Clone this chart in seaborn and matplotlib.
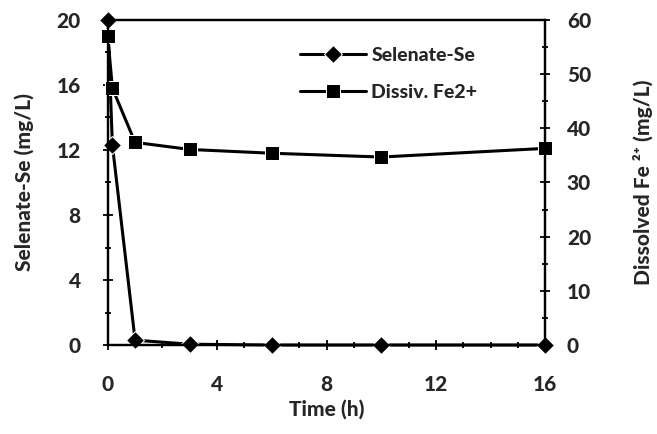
import matplotlib
matplotlib.use("Agg")
import matplotlib.pyplot as plt
import seaborn as sns
import pandas as pd
from matplotlib.ticker import MultipleLocator

time_se = [0, 0.17, 1, 3, 6, 10, 16]
selenate_se = [20.0, 12.3, 0.3, 0.05, 0.0, 0.0, 0.0]
time_fe = [0, 0.17, 1, 3, 6, 10, 16]
fe2 = [57.0, 47.4, 37.4, 36.1, 35.4, 34.7, 36.3]

sns.set_theme(style="ticks")
plt.rcParams['font.family'] = ['Lato', 'DejaVu Sans']
plt.rcParams['font.weight'] = 'black'

W = "black"
fig = plt.figure(figsize=(6.57, 4.34), dpi=100)
ax = fig.add_axes([0.164, 0.205, 0.666, 0.749])
ax2 = ax.twinx()

df1 = pd.DataFrame({"t": time_se, "v": selenate_se})
df2 = pd.DataFrame({"t": time_fe, "v": fe2})

sns.lineplot(data=df1, x="t", y="v", ax=ax, color="black", marker="D", markersize=9,
             linewidth=2.2, clip_on=False, label="Selenate-Se", legend=False)
sns.lineplot(data=df2, x="t", y="v", ax=ax2, color="black", marker="s", markersize=10,
             linewidth=2.2, clip_on=False, label="Dissiv. Fe2+", legend=False)

ax.set_xlim(0, 16)
ax.set_ylim(0, 20)
ax2.set_ylim(0, 60)
ax.xaxis.set_major_locator(MultipleLocator(4))
ax.xaxis.set_minor_locator(MultipleLocator(1))
ax.yaxis.set_major_locator(MultipleLocator(4))
ax.yaxis.set_minor_locator(MultipleLocator(2))
ax2.yaxis.set_major_locator(MultipleLocator(10))
ax2.yaxis.set_minor_locator(MultipleLocator(5))

for a in (ax, ax2):
    for s in a.spines.values():
        s.set_color("black")
        s.set_linewidth(1.6)
    a.tick_params(which="both", direction="inout", color="black", width=1.3)
    a.tick_params(which="major", length=7, labelsize=15)
    a.tick_params(which="minor", length=5)
    for lab in a.get_xticklabels() + a.get_yticklabels():
        lab.set_fontweight(W)
ax.tick_params(axis="x", which="major", pad=18)
ax.tick_params(axis="y", which="major", pad=16)
ax2.tick_params(axis="y", which="major", pad=12)

ax.set_xlabel("Time (h)", fontsize=15, fontweight=W, labelpad=4)
ax.set_ylabel("Selenate-Se (mg/L)", fontsize=15, fontweight=W, labelpad=16)
ax2.set_ylabel("Dissolved Fe \u00b2\u207a (mg/L)", fontsize=15, fontweight=W, labelpad=30)

h1, l1 = ax.get_legend_handles_labels()
h2, l2 = ax2.get_legend_handles_labels()
leg = ax2.legend(h1 + h2, l1 + l2, loc="upper right", bbox_to_anchor=(0.885, 0.97),
                 frameon=False, prop={"weight": W, "size": 14},
                 handlelength=3.4, handletextpad=0.3, labelspacing=1.0)

fig.savefig("out.png", dpi=100)
